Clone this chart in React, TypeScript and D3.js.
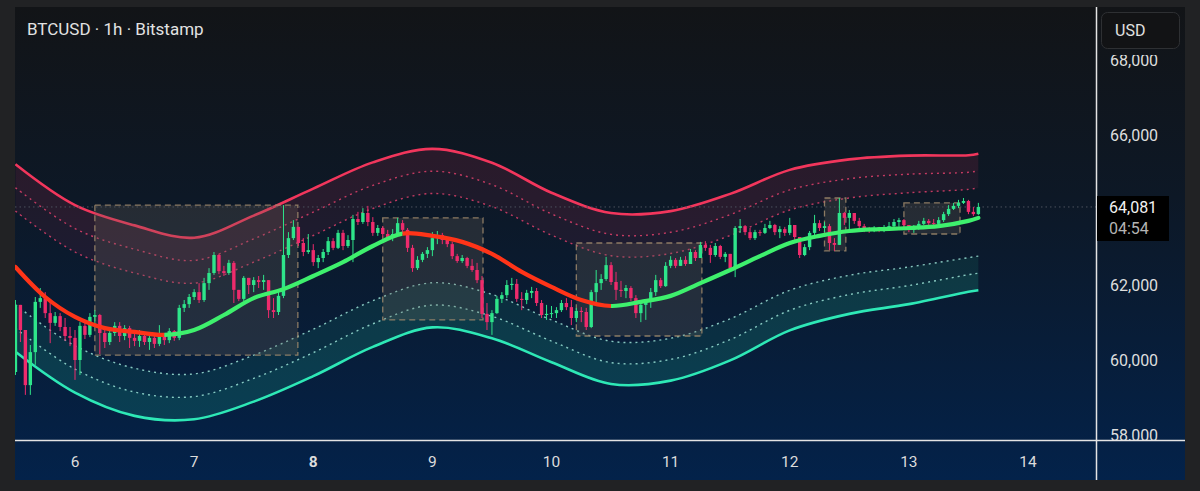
import { useEffect, useRef } from 'react';
import * as d3 from 'd3';

// hourly candles, first one = day 5 12:00 (hour -12 relative to day 6 00:00)
const firstHour = -12;
const firstOpen = 59680;

const closes = [
  61470, 60800, 59330, 60210, 61550, 61650, 61250, 60990, 61170, 60880, 60640, 60590,
  60000, 60910, 60670, 61150, 61200, 60720, 60480, 60720, 60910, 60640, 60850, 60590,
  60510, 60640, 60480, 60590, 60430, 60640, 60530, 60770, 60590, 61390, 61490, 61680,
  61810, 61600, 62050, 62320, 62800, 62370, 62320, 62590, 61870, 61630, 62190, 62000,
  62130, 62080, 62130, 61330, 61280, 61710, 62800, 63250, 63550, 63120, 62880, 62930,
  62610, 62720, 62880, 63170, 62990, 63390, 63040, 63200, 63760, 63680, 63920, 63680,
  63390, 63520, 63360, 63280, 63360, 63650, 63470, 62990, 62450, 62670, 62830, 62930,
  63250, 63330, 63200, 63090, 62770, 62640, 62720, 62510, 62400, 62130, 61230, 61010,
  61250, 61630, 61730, 62000, 62030, 61630, 61600, 61790, 61840, 61520, 61200, 61230,
  61250, 61330, 61520, 61410, 61120, 61310, 61280, 60880, 61810, 62050, 62160, 62530,
  62080, 61870, 61840, 61920, 61650, 61250, 61470, 61550, 61810, 62130, 61970, 62510,
  62670, 62510, 62670, 62560, 62880, 62720, 63070, 62990, 62800, 63040, 62750, 62830,
  62450, 63520, 63570, 63410, 63250, 63410, 63390, 63520, 63600, 63410, 63490, 63390,
  63600, 63280, 62800, 63010, 63390, 63650, 63520, 63570, 63120, 63070, 63920, 63790,
  63920, 63710, 63570, 63520, 63470, 63490, 63470, 63520, 63570, 63680, 63730, 63600,
  63470, 63520, 63630, 63710, 63650, 63630, 63730, 63890, 64030, 64110, 64190, 64240,
  63950, 63890, 64081,
];

const highs = [
  61600, 61470, 60800, 60400, 61680, 61920, 61810, 61600, 61280, 61250, 61120, 60880,
  60800, 61010, 60990, 61250, 61330, 61230, 60800, 60850, 61010, 61010, 60930, 60910,
  60720, 60800, 60720, 60640, 60640, 60930, 60720, 60850, 60800, 61470, 61600, 61760,
  61890, 62050, 62190, 62450, 62880, 62830, 62510, 62670, 62640, 61870, 62240, 62110,
  62210, 62240, 62270, 62000, 61650, 61810, 64130, 63410, 63730, 63520, 63250, 63360,
  63090, 62800, 62960, 63280, 63250, 63470, 63470, 63330, 63870, 63950, 64050, 64110,
  63810, 63600, 63570, 63470, 63490, 63790, 63730, 63520, 63070, 62770, 62880, 63010,
  63410, 63440, 63390, 63250, 63150, 62830, 62800, 62750, 62690, 62590, 62240, 61520,
  61330, 61710, 61810, 62130, 62190, 62160, 61810, 61870, 61950, 61920, 61600, 61470,
  61440, 61410, 61600, 61650, 61600, 61390, 61410, 61390, 61870, 62400, 62290, 62750,
  62610, 62350, 62110, 62000, 61970, 61730, 61550, 61600, 61920, 62270, 62190, 62610,
  62770, 62720, 62750, 62770, 62960, 62930, 63150, 63170, 63070, 63120, 63070, 62880,
  62830, 63570, 63760, 63600, 63520, 63470, 63470, 63630, 63710, 63630, 63570, 63550,
  63790, 63600, 63150, 63090, 63440, 63870, 63730, 63680, 63630, 63250, 64320, 63950,
  64000, 63920, 63790, 63630, 63550, 63570, 63550, 63600, 63680, 63760, 63790, 63760,
  63570, 63600, 63710, 63790, 63760, 63760, 63810, 63950, 64130, 64190, 64270, 64320,
  64270, 64080, 64190,
];

const lows = [
  59600, 60480, 59070, 59070, 59870, 61390, 61120, 60450, 60910, 60770, 60510, 60370,
  59470, 59600, 60560, 60610, 60960, 60160, 60320, 60400, 60640, 60480, 60530, 60320,
  60370, 60350, 60400, 60270, 60320, 60370, 60400, 60450, 60510, 60530, 61280, 61390,
  61600, 61520, 61550, 61870, 62270, 62290, 62240, 62270, 61520, 61570, 61570, 61760,
  61810, 61920, 61870, 61120, 61120, 61200, 61650, 62720, 63200, 63040, 62770, 62830,
  62510, 62450, 62610, 62800, 62930, 62960, 62930, 62990, 62610, 63600, 63630, 63570,
  63310, 63310, 63280, 63200, 63170, 63310, 63360, 62880, 62350, 62400, 62610, 62720,
  62770, 63090, 63090, 63010, 62690, 62590, 62590, 62450, 62350, 62050, 61120, 60800,
  60670, 61230, 61520, 61650, 61870, 61550, 61330, 61490, 61650, 61440, 61120, 61070,
  61120, 61120, 61280, 61330, 60930, 61010, 61010, 60800, 60850, 61470, 61870, 62110,
  62000, 61600, 61680, 61650, 61570, 61120, 61010, 61070, 61390, 61710, 61920, 61950,
  62450, 62450, 62560, 62510, 62560, 62640, 62750, 62910, 62590, 62750, 62690, 62610,
  62400, 62210, 63390, 63330, 63200, 63200, 63310, 63360, 63490, 63330, 63250, 63310,
  63330, 63200, 62720, 62770, 62930, 63330, 63440, 63410, 62930, 62910, 63070, 63600,
  63470, 63630, 63490, 63410, 63390, 63410, 63410, 63410, 63470, 63520, 63550, 63470,
  63410, 63390, 63470, 63600, 63570, 63550, 63570, 63680, 63840, 64000, 64050, 64160,
  63890, 63840, 63870,
];

// thick trend line (sampled every 6h)
const midHours = [
  -12, -6, 0, 6, 12, 18, 24, 30, 36, 42, 48, 54, 60, 66, 72, 78, 84, 90, 96, 102,
  108, 114, 120, 126, 132, 138, 144, 150, 156, 162, 168, 174, 180, 182,
];
const midValues = [
  62480, 61680, 61150, 60850, 60750, 60670, 60800, 61200, 61650, 61890, 62240, 62610,
  63040, 63370, 63310, 63150, 62830, 62350, 61950, 61600, 61440, 61550, 61710, 62050,
  62400, 62770, 63120, 63310, 63440, 63490, 63520, 63570, 63710, 63790,
];

// envelope: basis +/- 1, 1.5, 2 widths (sampled every 12h)
const bandHours = [-12, 0, 12, 24, 36, 48, 60, 72, 84, 96, 108, 120, 132, 144, 156, 168, 180, 182];
const bandBasis = [
  62720, 61630, 61050, 60840, 61370, 62070, 62810, 63250, 62920, 62200, 61640, 61710,
  62210, 62930, 63290, 63470, 63640, 63680,
];
const bandWidth = [
  1250, 1250, 1270, 1210, 1240, 1250, 1230, 1190, 1170, 1130, 1140, 1130, 1110, 1070,
  1030, 990, 910, 910,
];

// range boxes
const boxStart = [4, 62, 101, 151, 167];
const boxEnd = [44.9, 82.2, 126.3, 155.3, 178.3];
const boxTop = [64130, 63790, 63120, 64320, 64190];
const boxBottom = [60130, 61070, 60640, 62910, 63360];

const dayTicks = [6, 7, 8, 9, 10, 11, 12, 13, 14];
const priceTicks = [58000, 60000, 62000, 66000, 68000];
const lastPrice = 64081;
const countdown = '04:54';
const title = 'BTCUSD · 1h · Bitstamp';

const FONT = "Roboto, 'Noto Sans', sans-serif";

interface Band { h: number; c: number; w: number }

const BtcChart = () => {
  const svgRef = useRef<SVGSVGElement>(null);

  useEffect(() => {
    if (!svgRef.current) return;
    const svg = d3.select(svgRef.current);
    svg.selectAll('*').remove();

    const W = 1200;
    const H = 491;
    const plot = { left: 15, right: 1096, top: 7, bottom: 440 };
    const panel = { left: 15, right: 1185, top: 7, bottom: 480 };

    // hour 0 = day 6 00:00
    const x = d3.scaleLinear().domain([0, 192]).range([75, 1028]);
    const y = d3.scaleLinear().domain([58000, 68000]).range([435, 60]);

    const defs = svg.append('defs');
    const bg = defs.append('linearGradient')
      .attr('id', 'bg').attr('x1', 0).attr('y1', 0).attr('x2', 0).attr('y2', 1);
    bg.append('stop').attr('offset', '0%').attr('stop-color', '#121417');
    bg.append('stop').attr('offset', '40%').attr('stop-color', '#0d1826');
    bg.append('stop').attr('offset', '100%').attr('stop-color', '#03224a');

    defs.append('clipPath').attr('id', 'plotClip').append('rect')
      .attr('x', plot.left).attr('y', plot.top)
      .attr('width', plot.right - plot.left).attr('height', plot.bottom - plot.top);
    defs.append('clipPath').attr('id', 'axisClip').append('rect')
      .attr('x', plot.right).attr('y', 55)
      .attr('width', panel.right - plot.right).attr('height', plot.bottom - 55);

    // frame + panel
    svg.append('rect').attr('width', W).attr('height', H).attr('fill', '#212224');
    svg.append('rect')
      .attr('x', panel.left).attr('y', panel.top)
      .attr('width', panel.right - panel.left).attr('height', panel.bottom - panel.top)
      .attr('fill', 'url(#bg)');

    const g = svg.append('g').attr('clip-path', 'url(#plotClip)');

    // Bands
    const bands: Band[] = bandHours.map((h, i) => ({ h, c: bandBasis[i], w: bandWidth[i] }));
    const curve = d3.curveCatmullRom;
    const bandArea = (a: number, b: number) => d3.area<Band>()
      .x(d => x(d.h)).y0(d => y(d.c + a * d.w)).y1(d => y(d.c + b * d.w)).curve(curve);
    const bandLine = (k: number) => d3.line<Band>()
      .x(d => x(d.h)).y(d => y(d.c + k * d.w)).curve(curve);

    g.append('path').datum(bands).attr('d', bandArea(2, 1)).attr('fill', 'rgba(242,54,100,0.08)');
    g.append('path').datum(bands).attr('d', bandArea(2, 1.5)).attr('fill', 'rgba(242,54,100,0.05)');
    g.append('path').datum(bands).attr('d', bandArea(-2, -1)).attr('fill', 'rgba(38,230,180,0.09)');
    g.append('path').datum(bands).attr('d', bandArea(-2, -1.5)).attr('fill', 'rgba(38,230,180,0.07)');

    [1, 1.5].forEach(k => {
      g.append('path').datum(bands).attr('d', bandLine(k))
        .attr('fill', 'none').attr('stroke', '#ee4470').attr('stroke-opacity', 0.8)
        .attr('stroke-width', 1.4).attr('stroke-dasharray', '2,4');
      g.append('path').datum(bands).attr('d', bandLine(-k))
        .attr('fill', 'none').attr('stroke', '#a8f0e2').attr('stroke-opacity', 0.8)
        .attr('stroke-width', 1.4).attr('stroke-dasharray', '2,4');
    });
    g.append('path').datum(bands).attr('d', bandLine(2))
      .attr('fill', 'none').attr('stroke', '#f2365c').attr('stroke-width', 2.6);
    g.append('path').datum(bands).attr('d', bandLine(-2))
      .attr('fill', 'none').attr('stroke', '#2ee8b6').attr('stroke-width', 2.6);

    // Boxes
    boxStart.forEach((s, i) => {
      g.append('rect')
        .attr('x', x(s)).attr('y', y(boxTop[i]))
        .attr('width', x(boxEnd[i]) - x(s)).attr('height', y(boxBottom[i]) - y(boxTop[i]))
        .attr('fill', 'rgba(112,102,88,0.26)')
        .attr('stroke', '#a08a6c').attr('stroke-opacity', 0.85)
        .attr('stroke-width', 1.3).attr('stroke-dasharray', '6,4');
    });

    // last price dotted line
    g.append('line')
      .attr('x1', plot.left).attr('x2', plot.right)
      .attr('y1', y(lastPrice)).attr('y2', y(lastPrice))
      .attr('stroke', '#4c525c').attr('stroke-width', 1).attr('stroke-dasharray', '1.5,3');

    // Candles
    const candles = closes.map((c, i) => {
      const o = i === 0 ? firstOpen : closes[i - 1];
      return {
        h: firstHour + i,
        o,
        c,
        hi: Math.max(highs[i], o, c),
        lo: Math.min(lows[i], o, c),
      };
    });
    const up = '#2ee58a';
    const down = '#ee2b6c';
    const cg = g.append('g');
    cg.selectAll('line.wick').data(candles).enter().append('line')
      .attr('class', 'wick')
      .attr('x1', d => x(d.h)).attr('x2', d => x(d.h))
      .attr('y1', d => y(d.hi)).attr('y2', d => y(d.lo))
      .attr('stroke', d => (d.c >= d.o ? up : down)).attr('stroke-width', 1);
    cg.selectAll('rect.body').data(candles).enter().append('rect')
      .attr('class', 'body')
      .attr('x', d => x(d.h) - 1.7).attr('width', 3.4)
      .attr('y', d => y(Math.max(d.o, d.c)))
      .attr('height', d => Math.max(1, Math.abs(y(d.o) - y(d.c))))
      .attr('fill', d => (d.c >= d.o ? up : down));

    // Trend line, coloured by direction
    const midPts = midHours.map((h, i) => ({ h, v: midValues[i] }));
    const midLine = d3.line<{ h: number; v: number }>()
      .x(d => x(d.h)).y(d => y(d.v)).curve(curve);
    const runs: { rising: boolean; from: number; to: number }[] = [];
    let start = 0;
    let rising = midPts[1].v > midPts[0].v;
    for (let i = 1; i < midPts.length; i++) {
      const r = midPts[i].v > midPts[i - 1].v;
      if (r !== rising) {
        runs.push({ rising, from: midPts[start].h, to: midPts[i - 1].h });
        start = i - 1;
        rising = r;
      }
    }
    runs.push({ rising, from: midPts[start].h, to: midPts[midPts.length - 1].h });
    runs.forEach((run, i) => {
      const id = `midClip${i}`;
      const x0 = i === 0 ? plot.left - 10 : x(run.from);
      const x1 = i === runs.length - 1 ? plot.right : x(run.to);
      defs.append('clipPath').attr('id', id).append('rect')
        .attr('x', x0).attr('y', 0).attr('width', x1 - x0).attr('height', H);
      g.append('g').attr('clip-path', `url(#${id})`)
        .append('path').datum(midPts).attr('d', midLine)
        .attr('fill', 'none')
        .attr('stroke', run.rising ? '#3ef06d' : '#ff3418')
        .attr('stroke-width', 4.2).attr('stroke-linecap', 'round');
    });

    // Axis lines
    svg.append('line')
      .attr('x1', plot.left).attr('x2', panel.right)
      .attr('y1', plot.bottom + 0.5).attr('y2', plot.bottom + 0.5)
      .attr('stroke', '#e4e4e4').attr('stroke-width', 1.5);

    // Price labels
    const ag = svg.append('g').attr('clip-path', 'url(#axisClip)');
    ag.selectAll('text').data(priceTicks).enter().append('text')
      .attr('x', 1110).attr('y', d => y(d) + 5.5)
      .attr('fill', '#dedede').style('font-family', FONT).style('font-size', '16px')
      .text(d => d3.format(',')(d));

    svg.append('line')
      .attr('x1', plot.right + 0.5).attr('x2', plot.right + 0.5)
      .attr('y1', panel.top).attr('y2', panel.bottom)
      .attr('stroke', '#e4e4e4').attr('stroke-width', 1.5);

    // Day labels
    svg.selectAll('text.day').data(dayTicks).enter().append('text')
      .attr('class', 'day')
      .attr('x', d => x((d - 6) * 24)).attr('y', 467)
      .attr('text-anchor', 'middle')
      .attr('fill', '#dcdcdc').style('font-family', FONT).style('font-size', '15.5px')
      .style('font-weight', d => (d === 8 ? 700 : 400))
      .text(d => `${d}`);

    // Last price label
    svg.append('rect')
      .attr('x', 1097).attr('y', 196).attr('width', 72).attr('height', 45)
      .attr('fill', '#000');
    svg.append('text')
      .attr('x', 1109).attr('y', 213)
      .attr('fill', '#f2f2f2').style('font-family', FONT).style('font-size', '16px')
      .text(d3.format(',')(lastPrice));
    svg.append('text')
      .attr('x', 1109).attr('y', 234)
      .attr('fill', '#b4b4b4').style('font-family', FONT).style('font-size', '16px')
      .text(countdown);

    // Currency button
    svg.append('rect')
      .attr('x', 1101.5).attr('y', 12.5).attr('width', 78).attr('height', 36).attr('rx', 6)
      .attr('fill', '#121315').attr('stroke', '#2e3033');
    svg.append('text')
      .attr('x', 1115).attr('y', 36)
      .attr('fill', '#e0e0e0').style('font-family', FONT).style('font-size', '16px')
      .text('USD');

    // Title
    svg.append('text')
      .attr('x', 27).attr('y', 35)
      .attr('fill', '#e2e2e2').style('font-family', FONT).style('font-size', '17px')
      .text(title);
  }, []);

  return <svg ref={svgRef} width={1200} height={491} style={{ display: 'block' }} />;
};

export default function App() {
  return (
    <div style={{ position: 'fixed', left: 0, top: 0, width: 1200, height: 491, overflow: 'hidden' }}>
      <BtcChart />
    </div>
  );
}
